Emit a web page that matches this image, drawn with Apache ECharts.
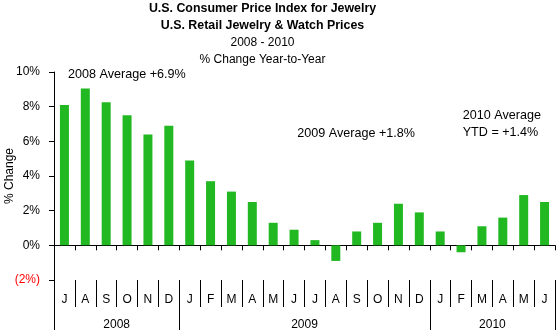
<!DOCTYPE html>
<html><head><meta charset="utf-8">
<script src="https://cdn.jsdelivr.net/npm/echarts@6/dist/echarts.min.js"></script>
<style>html,body{margin:0;padding:0;background:#fff}#c{width:560px;height:330px}</style>
</head><body><div id="c"></div>
<script>
const months = ['J','A','S','O','N','D','J','F','M','A','M','J','J','A','S','O','N','D','J','F','M','A','M','J'];
const monthYears = [2008,2008,2008,2008,2008,2008,2009,2009,2009,2009,2009,2009,2009,2009,2009,2009,2009,2009,2010,2010,2010,2010,2010,2010];
const values = [8.1,9.05,8.25,7.5,6.4,6.9,4.9,3.7,3.1,2.5,1.3,0.9,0.3,-0.9,0.8,1.3,2.4,1.9,0.8,-0.4,1.1,1.6,2.9,2.5];
const yTicks = [-2,0,2,4,6,8,10];
const titleLines = ['U.S. Consumer Price Index for Jewelry','U.S. Retail Jewelry & Watch Prices','2008 - 2010','% Change Year-to-Year'];
const notes = ['2008 Average +6.9%','2009 Average +1.8%','2010 Average','YTD = +1.4%'];

const FF = '"Liberation Sans", Arial, sans-serif';
// year spans from months
const yearStarts = [], yearCenters = {}, years = [];
monthYears.forEach((y,i)=>{ if(i===0||monthYears[i-1]!==y){ yearStarts.push(i); years.push(y);} });
years.forEach((y,k)=>{ const s=yearStarts[k]; const e=(k+1<yearStarts.length?yearStarts[k+1]:months.length); yearCenters[(s+e)/2]=String(y); });
const yearTicks = yearStarts.concat([months.length]);

const chart = echarts.init(document.getElementById('c'), null, {renderer:'canvas'});
const titleY = [9, 26, 43, 60];
const graphics = titleLines.map((t,i)=>({type:'text', x:262.5, y:titleY[i], style:{text:t, fontFamily:FF, fontSize: i<2?12.4:12, fontWeight: i<2?'bold':'normal', fill:'#000', align:'center', verticalAlign:'middle'}}));
const notePos = [[68,74.3],[297.3,133.7],[462.7,116],[462.7,132.7]];
notes.forEach((t,i)=>graphics.push({type:'text', x:notePos[i][0], y:notePos[i][1], style:{text:t, fontFamily:FF, fontSize:12.6, fill:'#000', align:'left', verticalAlign:'middle'}}));

chart.setOption({
  animation:false,
  grid:{left:54, right:5, top:72, bottom:50, containLabel:false, outerBoundsMode:'none'},
  graphic: graphics,
  xAxis:[
    {type:'category', data:months, position:'bottom', boundaryGap:true,
     axisLine:{show:true, onZero:true, lineStyle:{color:'#000', width:1}},
     axisTick:{show:true, length:5, interval:0, lineStyle:{color:'#000'}},
     axisLabel:{show:false}, splitLine:{show:false}},
    {type:'category', data:months, position:'bottom', boundaryGap:true,
     axisLine:{show:false, onZero:false},
     axisTick:{show:true, length:27, interval:0, lineStyle:{color:'#000'}},
     axisLabel:{show:true, interval:0, margin:14, color:'#000', fontSize:12, fontFamily:FF},
     splitLine:{show:false}},
    {type:'value', min:0, max:months.length, position:'bottom',
     axisLine:{show:false, onZero:false},
     axisTick:{show:true, length:50, customValues:yearTicks, lineStyle:{color:'#000'}},
     axisLabel:{show:true, customValues:Object.keys(yearCenters).map(Number), formatter:v=>yearCenters[v]||'', margin:39, color:'#000', fontSize:12, fontFamily:FF},
     splitLine:{show:false}}
  ],
  yAxis:{type:'value', min:yTicks[0], max:yTicks[yTicks.length-1], interval:2,
    axisLine:{show:true, onZero:false, lineStyle:{color:'#000'}},
    axisTick:{show:true, length:5, lineStyle:{color:'#000'}},
    splitLine:{show:false},
    axisLabel:{margin:14, fontSize:12, fontFamily:FF,
      formatter:v=> v<0 ? '('+(-v)+'%)' : v+'%',
      color:v=> Number(v)<0 ? '#ff0000' : '#000'},
    name:'% Change', nameLocation:'middle', nameGap:38, nameMoveOverlap:false,
    nameTextStyle:{fontSize:12, fontFamily:FF, color:'#000'}},
  series:[{type:'bar', xAxisIndex:0, yAxisIndex:0, data:values, barWidth:9,
    itemStyle:{color:'#22b822'}}]
});
</script></body></html>
